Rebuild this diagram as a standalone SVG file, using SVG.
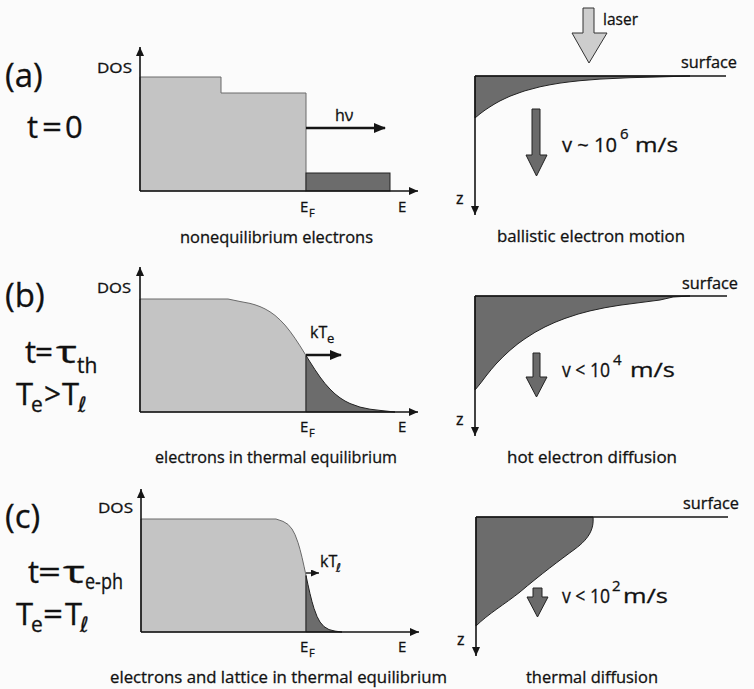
<svg xmlns="http://www.w3.org/2000/svg" width="754" height="689" viewBox="0 0 754 689">
<style>
text{font-family:"Open Sans","DejaVu Sans",sans-serif;fill:#111;stroke:#111;stroke-width:0.3}
.axis{stroke:#151515;stroke-width:1.6;fill:none}
.light{fill:#c4c4c4;stroke:#6a6a6a;stroke-width:1}
.dark{fill:#6c6c6c;stroke:#222;stroke-width:1}
.surf{stroke:#151515;stroke-width:1.4;fill:none}
.barrow{fill:#6a6a6a;stroke:#222;stroke-width:1}
.cap{font-size:17px}
.big{font-size:33px}
.mid{font-size:31px}
.sub{font-size:21px}
.dos{font-size:14px}
.ef{font-size:15px}
.efs{font-size:11px}
.vel{font-size:20px}
.sup{font-size:15px}
.sf{font-size:16px}
.z{font-size:16px}
.ell{font-style:italic;font-family:"DejaVu Sans",sans-serif}
</style>
<defs>
<marker id="ah" markerWidth="9" markerHeight="8" refX="9" refY="4" orient="auto" markerUnits="userSpaceOnUse"><path d="M0,0 L9,4 L0,8 Z" fill="#151515"/></marker>
<marker id="ahb" markerWidth="12" markerHeight="10" refX="11" refY="5" orient="auto" markerUnits="userSpaceOnUse"><path d="M0,0 L12,5 L0,10 Z" fill="#151515"/></marker>
<marker id="ahs" markerWidth="8" markerHeight="7" refX="8" refY="3.5" orient="auto" markerUnits="userSpaceOnUse"><path d="M0,0 L8,3.5 L0,7 Z" fill="#151515"/></marker>
</defs>
<rect x="0" y="0" width="754" height="689" fill="#fbfbfb"/>

<!-- Panel labels -->
<g id="label-a">
<text class="big" x="5" y="87">(a)</text>
<text class="mid" x="27" y="138">t</text>
<text class="mid" x="42" y="138" textLength="20" lengthAdjust="spacingAndGlyphs">=</text>
<text class="mid" x="65" y="138">0</text>
</g>
<g id="label-b">
<text class="big" x="5" y="307">(b)</text>
<text class="mid" x="25" y="363">t</text>
<text class="mid" x="35" y="363" textLength="18" lengthAdjust="spacingAndGlyphs">=</text>
<text class="mid" x="56" y="363" textLength="21" lengthAdjust="spacingAndGlyphs">τ</text>
<text class="sub" x="77" y="373">th</text>
<text class="mid" x="16" y="405">T</text>
<text class="sub" x="31" y="412">e</text>
<text class="mid" x="44" y="405" textLength="17" lengthAdjust="spacingAndGlyphs">&gt;</text>
<text class="mid" x="62" y="405">T</text>
<text class="sub ell" x="78" y="412">ℓ</text>
</g>
<g id="label-c">
<text class="big" x="5" y="528">(c)</text>
<text class="mid" x="28" y="583">t</text>
<text class="mid" x="38" y="583" textLength="23" lengthAdjust="spacingAndGlyphs">=</text>
<text class="mid" x="63" y="583" textLength="22" lengthAdjust="spacingAndGlyphs">τ</text>
<text class="sub" x="85" y="589" textLength="38" lengthAdjust="spacingAndGlyphs">e-ph</text>
<text class="mid" x="16" y="625">T</text>
<text class="sub" x="31" y="632">e</text>
<text class="mid" x="43" y="625" textLength="20" lengthAdjust="spacingAndGlyphs">=</text>
<text class="mid" x="65" y="625">T</text>
<text class="sub ell" x="80" y="632">ℓ</text>
</g>

<!-- (a) DOS -->
<g id="dos-a">
<path class="light" d="M140,191 V77 H221 V93 H306 V191 Z"/>
<rect class="dark" x="306" y="173" width="84" height="18"/>
<text class="dos" x="97" y="73" textLength="35" lengthAdjust="spacingAndGlyphs">DOS</text>
<text class="sf" x="335" y="121" font-size="17">hν</text>
<text class="ef" x="300" y="212">E</text><text class="efs" x="309" y="217">F</text>
<text class="ef" x="398" y="212">E</text>
<text class="cap" x="180" y="243" textLength="193" lengthAdjust="spacingAndGlyphs">nonequilibrium electrons</text>
</g>
<!-- (b) DOS -->
<g id="dos-b">
<path class="light" d="M140,412 V299 H228 L240,301.5 L250,303.4 L255,304.8 L260,306.6 L265,308.9 L270,311.8 L275,315.4 L280,319.9 L285,325.1 L290,331.3 L295,338.3 L300,345.9 L306,355.5 V412 Z"/>
<path class="dark" d="M306,412 V355.5 L310,361.9 L315,369.7 L320,377 L325,383.5 L330,389.1 L335,393.9 L340,397.8 L345,401 L350,403.5 L360,407.1 L370,409.2 L380,410.4 L395,412 Z"/>
<text class="dos" x="97" y="293" textLength="34" lengthAdjust="spacingAndGlyphs">DOS</text>
<text class="sf" x="310" y="338">kT</text><text x="327" y="343" font-size="13">e</text>
<text class="ef" x="300" y="432">E</text><text class="efs" x="309" y="437">F</text>
<text class="ef" x="398" y="432">E</text>
<text class="cap" x="155" y="463" textLength="242" lengthAdjust="spacingAndGlyphs">electrons in thermal equilibrium</text>
</g>
<!-- (c) DOS -->
<g id="dos-c">
<path class="light" d="M141,632 V519 H276 L283,521.4 L288,524.4 L292,529 L295,534.6 L298,542.6 L300,549.4 L302,557.3 L304,566.2 L306,575.5 V632 Z"/>
<path class="dark" d="M306,632 V575.5 L308,584.8 L310,593.7 L312,601.6 L314,608.4 L317,616.4 L320,622 L324,626.6 L329,629.6 L335,631.1 L342,632 Z"/>
<text class="dos" x="98" y="513" textLength="35" lengthAdjust="spacingAndGlyphs">DOS</text>
<text class="sf" x="320" y="567" font-size="15">kT</text><text class="ell" x="336" y="572" font-size="12">ℓ</text>
<text class="ef" x="300" y="652">E</text><text class="efs" x="309" y="657">F</text>
<text class="ef" x="398" y="652">E</text>
<text class="cap" x="110" y="683" textLength="337" lengthAdjust="spacingAndGlyphs">electrons and lattice in thermal equilibrium</text>
</g>

<!-- (a) depth -->
<g id="depth-a">
<polygon points="583,8 594,8 594,33 607,33 589,63 572,33 583,33" fill="#cdcdcd" stroke="#333" stroke-width="1"/>
<text x="603" y="25" font-size="17" textLength="35" lengthAdjust="spacingAndGlyphs">laser</text>
<path class="dark" d="M475,76 V118 L480,113.8 L485,110.1 L490,106.8 L495,103.7 L500,100.9 L505,98.5 L510,96.2 L520,92.5 L525,90.8 L540,86.8 L550,84.8 L560,83.1 L570,81.8 L580,80.7 L600,79.1 L630,77.7 L660,76.9 L690,76 Z"/>
<text class="sf" x="681" y="68" textLength="56" lengthAdjust="spacingAndGlyphs">surface</text>
<text class="z" x="456" y="204">z</text>
<polygon class="barrow" points="532,109 540,109 540,155 547,155 536.5,176 526,155 532,155"/>
<text class="vel" x="562" y="152" textLength="55" lengthAdjust="spacingAndGlyphs">v ~ 10</text>
<text class="sup" x="620" y="139">6</text>
<text class="vel" x="635" y="152" textLength="43" lengthAdjust="spacingAndGlyphs">m/s</text>
<text class="cap" x="497" y="242" textLength="188" lengthAdjust="spacingAndGlyphs">ballistic electron motion</text>
</g>
<!-- (b) depth -->
<g id="depth-b">
<path class="dark" d="M475,296 V390 L481,382.7 L486,376 L491,369.8 L496,364 L503,356.8 L510,350.3 L518,343.7 L525,338.7 L535,332.3 L545,326.9 L555,322.3 L565,318.4 L578,314.1 L590,310.9 L605,307.7 L620,305.2 L640,302.6 L660,300 L673,297 L690,296 Z"/>
<text class="sf" x="682" y="289" textLength="56" lengthAdjust="spacingAndGlyphs">surface</text>
<text class="z" x="456" y="425">z</text>
<polygon class="barrow" points="533,353 540,353 540,377 547,377 536.5,397 526,377 533,377"/>
<text class="vel" x="562" y="377" textLength="48" lengthAdjust="spacingAndGlyphs">v &lt; 10</text>
<text class="sup" x="613" y="365">4</text>
<text class="vel" x="630" y="377" textLength="45" lengthAdjust="spacingAndGlyphs">m/s</text>
<text class="cap" x="507" y="463" textLength="170" lengthAdjust="spacingAndGlyphs">hot electron diffusion</text>
</g>
<!-- (c) depth -->
<g id="depth-c">
<path class="dark" d="M476,517 H593 C594,528 590,538 575,549 C560,560 540,575 520,592 C505,604 488,614 476,626 Z"/>
<text class="sf" x="683" y="509" textLength="56" lengthAdjust="spacingAndGlyphs">surface</text>
<text class="z" x="457" y="645">z</text>
<polygon class="barrow" points="533,588 542,588 542,597 548,597 537.5,617 527,597 533,597"/>
<text class="vel" x="562" y="603" textLength="48" lengthAdjust="spacingAndGlyphs">v &lt; 10</text>
<text class="sup" x="612" y="591">2</text>
<text class="vel" x="623" y="603" textLength="45" lengthAdjust="spacingAndGlyphs">m/s</text>
<text class="cap" x="526" y="683" textLength="132" lengthAdjust="spacingAndGlyphs">thermal diffusion</text>
</g>

<!-- connectors / axes -->
<g id="connectors">
<line class="axis" x1="140" y1="191" x2="140" y2="47" marker-end="url(#ah)"/>
<line class="axis" x1="140" y1="191" x2="418" y2="191" marker-end="url(#ah)"/>
<line class="axis" x1="140" y1="412" x2="140" y2="267" marker-end="url(#ah)"/>
<line class="axis" x1="140" y1="412" x2="418" y2="412" marker-end="url(#ah)"/>
<line class="axis" x1="141" y1="632" x2="141" y2="489" marker-end="url(#ah)"/>
<line class="axis" x1="141" y1="632" x2="419" y2="632" marker-end="url(#ah)"/>
<line stroke="#151515" stroke-width="2.6" x1="306" y1="128" x2="385" y2="128" marker-end="url(#ahb)"/>
<line stroke="#151515" stroke-width="2.6" x1="306" y1="355" x2="341" y2="355" marker-end="url(#ahb)"/>
<line stroke="#151515" stroke-width="1.4" x1="306" y1="573" x2="319" y2="573" marker-end="url(#ahs)"/>
<line class="surf" x1="475" y1="76" x2="726" y2="76"/>
<line class="axis" x1="475" y1="76" x2="475" y2="215" marker-end="url(#ah)"/>
<line class="surf" x1="475" y1="296" x2="727" y2="296"/>
<line class="axis" x1="475" y1="296" x2="475" y2="436" marker-end="url(#ah)"/>
<line class="surf" x1="476" y1="517" x2="728" y2="517"/>
<line class="axis" x1="476" y1="517" x2="476" y2="656" marker-end="url(#ah)"/>
</g>
</svg>
